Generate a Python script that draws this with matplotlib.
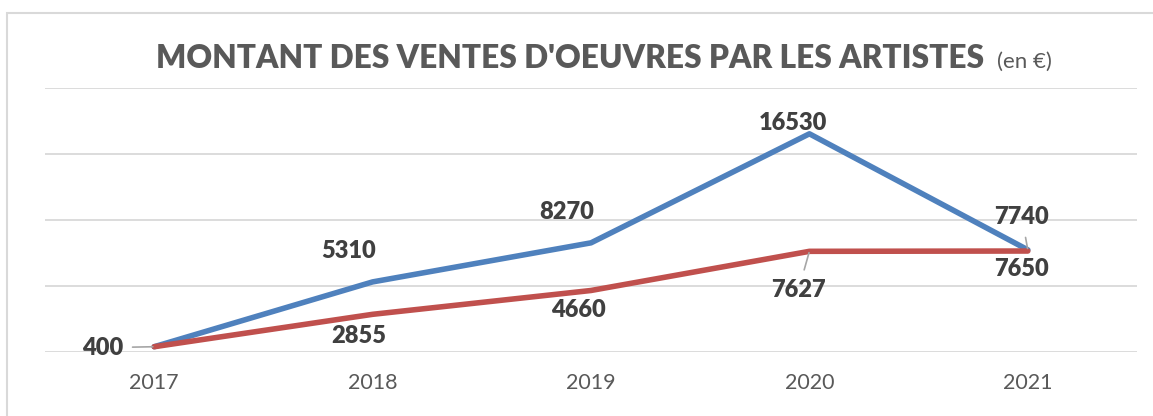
import matplotlib
matplotlib.use("Agg")
import matplotlib.pyplot as plt
import matplotlib.patches as patches

years = ["2017", "2018", "2019", "2020", "2021"]
ventes_bleu = [400, 5310, 8270, 16530, 7740]
ventes_rouge = [400, 2855, 4660, 7627, 7650]

# label offsets (pixels) relative to each point, None = no label
off_bleu = [(-52, -1), (-24, 31), (-24, 31), (-16, 11), (-6, 33)]
off_rouge = [None, (-14, -22), (-13, -20), (-11, -39), (-6, -18)]
leader_bleu = [True, False, False, False, True]
leader_rouge = [False, False, False, True, False]

W, H = 1153, 416
fig = plt.figure(figsize=(W / 100, H / 100), dpi=100)
plt.rcParams["font.family"] = ["Lato", "DejaVu Sans"]

# chart border (right / bottom sides are cut off in the original)
fig.patches.append(patches.Rectangle((7 / W, -0.2), 2, 403 / H + 0.2,
                                     transform=fig.transFigure, fill=False,
                                     edgecolor="#D9D9D9", linewidth=1.5))

ax = fig.add_axes([45 / W, 1 - 352 / H, (1137 - 45) / W, (352 - 88) / H])
x = range(len(years))
ax.plot(x, ventes_bleu, color="#4F81BD", lw=4.0, solid_joinstyle="round",
        solid_capstyle="round", zorder=3, clip_on=False)
ax.plot(x, ventes_rouge, color="#C0504D", lw=4.0, solid_joinstyle="round",
        solid_capstyle="round", zorder=4, clip_on=False)

ax.set_xlim(-0.5, 4.5)
ax.set_ylim(0, 20000)
ax.set_yticks(range(0, 20001, 5000))
ax.set_yticklabels([])
ax.grid(axis="y", color="#D9D9D9", lw=1.3)
ax.set_axisbelow(True)
ax.set_xticks(list(x))
ax.set_xticklabels(years, fontsize=15.5, color="#595959")
ax.tick_params(axis="both", length=0)
ax.tick_params(axis="x", pad=15)
for s in ax.spines.values():
    s.set_visible(False)


def label(xs, ys, offs, leaders):
    for i, (xv, yv) in enumerate(zip(xs, ys)):
        if offs[i] is None:
            continue
        kw = {}
        if leaders[i]:
            kw["arrowprops"] = dict(arrowstyle="-", color="#A6A6A6", lw=1.2,
                                    shrinkA=5, shrinkB=1)
        ax.annotate(f"{yv}", (xv, yv), xytext=offs[i], textcoords="offset pixels",
                    ha="center", va="center", fontsize=17, fontweight="heavy",
                    color="#404040", annotation_clip=False, zorder=6, **kw)


label(list(x), ventes_bleu, off_bleu, leader_bleu)
label(list(x), ventes_rouge, off_rouge, leader_rouge)

t = fig.text(156 / W, 1 - 68 / H, "MONTANT DES VENTES D'OEUVRES PAR LES ARTISTES",
             ha="left", va="baseline", fontsize=22.8, fontweight="heavy", color="#595959")
fig.text(997 / W, 1 - 68 / H, "(en €)", ha="left", va="baseline",
         fontsize=16, color="#595959")

fig.savefig("out.png", dpi=100)
